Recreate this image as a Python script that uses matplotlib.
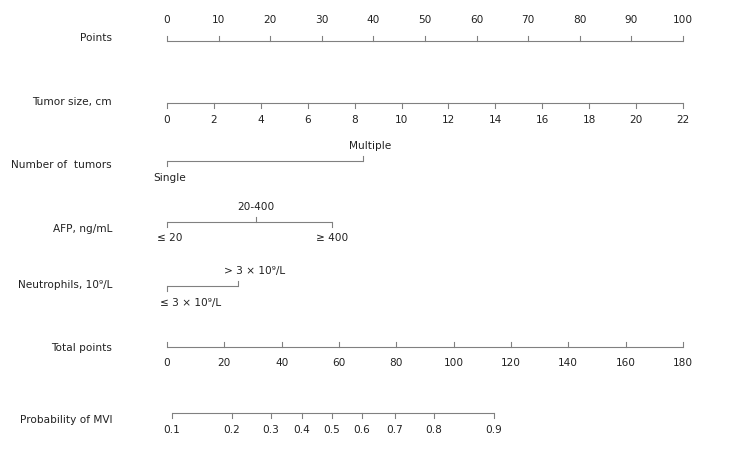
import matplotlib
matplotlib.use("Agg")
import matplotlib.pyplot as plt
import numpy as np

# ---- data ----
points_ticks = [0, 10, 20, 30, 40, 50, 60, 70, 80, 90, 100]
tumor_size_ticks = [0, 2, 4, 6, 8, 10, 12, 14, 16, 18, 20, 22]
tumor_size_max = 22
tumor_size_max_points = 100

number_labels = ["Single", "Multiple"]
number_points = [0, 38]

afp_labels = ["\u2264 20", "20-400", "\u2265 400"]
afp_points = [0, 17.2, 31.9]

neut_labels = ["\u2264 3 \u00d7 10\u2079/L", "> 3 \u00d7 10\u2079/L"]
neut_points = [0, 13.8]

total_ticks = [0, 20, 40, 60, 80, 100, 120, 140, 160, 180]
total_max = 180

prob_labels = ["0.1", "0.2", "0.3", "0.4", "0.5", "0.6", "0.7", "0.8", "0.9"]
prob_total_points = [1.7, 22.7, 36.3, 47.1, 57.6, 68.0, 79.5, 93.1, 114.1]

row_names = ["Points", "Tumor size, cm", "Number of  tumors", "AFP, ng/mL",
             "Neutrophils, 10\u2079/L", "Total points", "Probability of MVI"]

# ---- layout ----
W, H = 744, 453
PX0, PX100 = 167, 683           # pixel position of 0 and 100 points
ppx = (PX100 - PX0) / 100.0     # pixels per point
LINE = "#808080"
TXT = "#222222"
FS = 7.6

fig = plt.figure(figsize=(W / 100, H / 100), dpi=100)
ax = fig.add_axes([0, 0, 1, 1])
ax.set_xlim(-PX0 / ppx, (W - PX0) / ppx)
ax.set_ylim(H, 0)
ax.axis("off")

def px(d):
    return d / ppx

def hline(y, x0, x1):
    ax.plot([x0, x1], [y, y], color=LINE, lw=0.8, solid_capstyle="butt")

def tick(x, y, up):
    ax.plot([x, x], [y, y - 5 if up else y + 5], color=LINE, lw=0.8)

def text(x, y, s, ha="center"):
    ax.text(x, y, s, ha=ha, va="center", fontsize=FS, color=TXT,
            family=["DejaVu Sans"])

label_x = px(112 - PX0)
row_y = [38, 102, 165, 229, 285, 348, 420]
for name, y in zip(row_names, row_y):
    text(label_x, y, name, ha="right")

# Points
y = 41
hline(y, points_ticks[0], points_ticks[-1])
for t in points_ticks:
    tick(t, y, True)
    text(t, 20, str(t))

# Tumor size
y = 103
scale = tumor_size_max_points / tumor_size_max
hline(y, 0, tumor_size_max * scale)
for t in tumor_size_ticks:
    tick(t * scale, y, False)
    text(t * scale, 120, str(t))

# Number of tumors
y = 161
hline(y, number_points[0], number_points[1])
tick(number_points[0], y, False)
tick(number_points[1], y, True)
text(number_points[0] + px(2.5), 178, number_labels[0])
text(number_points[1] + px(7), 146, number_labels[1])

# AFP
y = 222
hline(y, afp_points[0], afp_points[-1])
tick(afp_points[0], y, False)
tick(afp_points[1], y, True)
tick(afp_points[2], y, False)
text(afp_points[0] + px(3), 238, afp_labels[0])
text(afp_points[1] + px(0.5), 207, afp_labels[1])
text(afp_points[2] + px(0.5), 238, afp_labels[2])

# Neutrophils
y = 286
hline(y, neut_points[0], neut_points[1])
tick(neut_points[0], y, False)
tick(neut_points[1], y, True)
text(neut_points[0] + px(24), 303, neut_labels[0])
text(neut_points[1] + px(16.5), 271, neut_labels[1])

# Total points
y = 347
ts = 100.0 / total_max
hline(y, 0, total_max * ts)
for t in total_ticks:
    tick(t * ts, y, True)
    text(t * ts, 363, str(t))

# Probability
y = 413
hline(y, prob_total_points[0] * ts, prob_total_points[-1] * ts)
for lab, t in zip(prob_labels, prob_total_points):
    tick(t * ts, y, False)
    text(t * ts, 430, lab)

fig.savefig("out.png", dpi=100, facecolor="white")
